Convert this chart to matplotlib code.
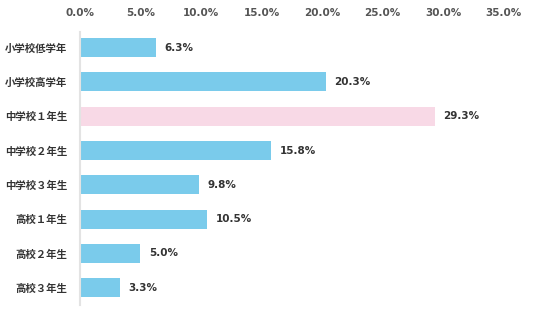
import matplotlib
matplotlib.use("Agg")
import matplotlib.pyplot as plt
import numpy as np

plt.rcParams['font.family'] = ['DejaVu Sans', 'Noto Sans CJK JP']

categories = ['小学校低学年', '小学校高学年', '中学校１年生', '中学校２年生',
              '中学校３年生', '高校１年生', '高校２年生', '高校３年生']
values = [6.3, 20.3, 29.3, 15.8, 9.8, 10.5, 5.0, 3.3]
highlight = '中学校１年生'
xticks = [0, 5, 10, 15, 20, 25, 30, 35]

blue = '#7acbeb'
pink = '#f8d9e6'
colors = [pink if c == highlight else blue for c in categories]

fig = plt.figure(figsize=(5.36, 3.21), dpi=100)
ax = fig.add_axes([0.149, 0.05, 0.791, 0.85])

y = np.arange(len(categories))
ax.barh(y, values, height=0.55, color=colors)

for yi, v in zip(y, values):
    ax.text(v + 0.7, yi, f'{v:.1f}%', va='center', ha='left',
            fontsize=7.5, fontweight='bold', color='#333333')

ax.set_xlim(0, 35)
ax.set_ylim(7.5, -0.45)
ax.set_xticks(xticks)
ax.set_xticklabels([f'{t:.1f}%' for t in xticks])
ax.xaxis.tick_top()
ax.tick_params(axis='x', length=0, pad=10, labelsize=7.5, labelcolor='#555555')
for lab in ax.get_xticklabels():
    lab.set_fontweight('bold')

ax.set_yticks(y)
ax.set_yticklabels(categories, family=['Noto Sans CJK JP', 'DejaVu Sans'],
                   fontsize=7.5, fontweight='bold', color='#333333')
ax.tick_params(axis='y', length=0, pad=9)

for s in ['top', 'right', 'bottom']:
    ax.spines[s].set_visible(False)
ax.spines['left'].set_color('#e3e3e3')
ax.spines['left'].set_linewidth(1.5)

fig.savefig('out.png', dpi=100)
